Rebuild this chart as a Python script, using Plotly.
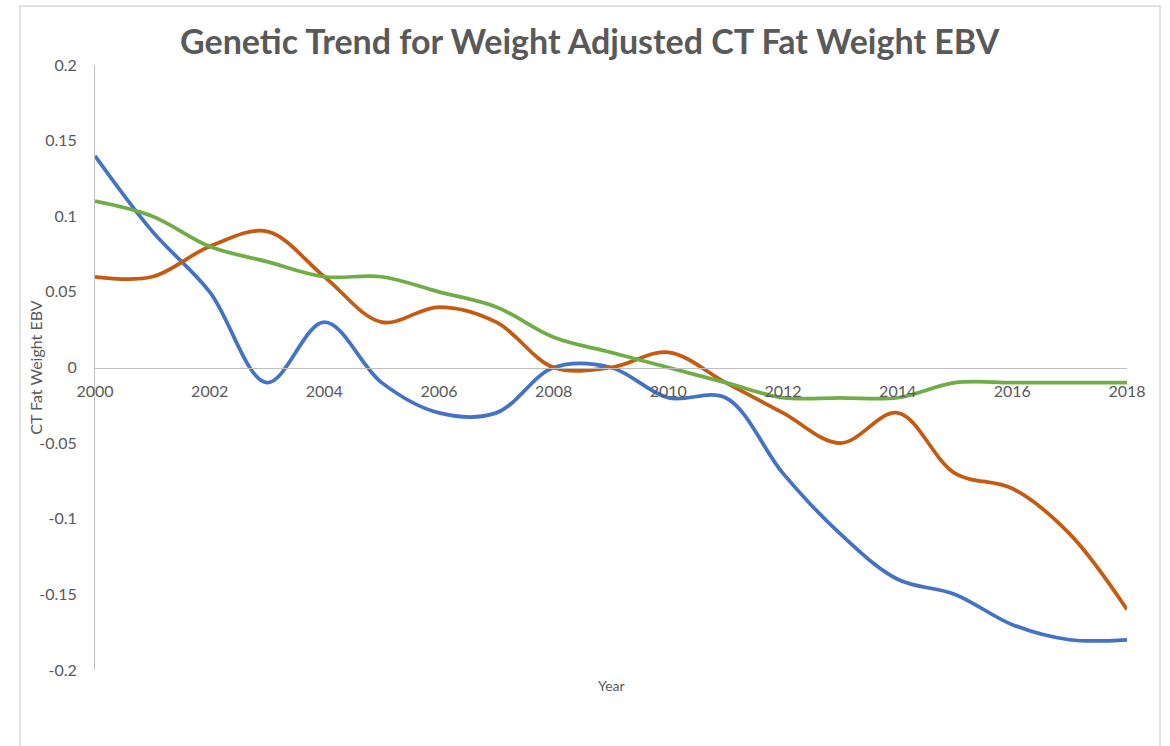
import plotly.graph_objects as go

years = list(range(2000, 2019))
blue_vals = [0.14, 0.09, 0.05, -0.01, 0.03, -0.01, -0.03, -0.03, 0.0, 0.0,
             -0.02, -0.02, -0.07, -0.11, -0.14, -0.15, -0.17, -0.18, -0.18]
orange_vals = [0.06, 0.06, 0.08, 0.09, 0.06, 0.03, 0.04, 0.03, 0.0, 0.0,
               0.01, -0.01, -0.03, -0.05, -0.03, -0.07, -0.08, -0.11, -0.16]
green_vals = [0.11, 0.10, 0.08, 0.07, 0.06, 0.06, 0.05, 0.04, 0.02, 0.01,
              0.0, -0.01, -0.02, -0.02, -0.02, -0.01, -0.01, -0.01, -0.01]

x_tickvals = [2000, 2002, 2004, 2006, 2008, 2010, 2012, 2014, 2016, 2018]
x_ticktext = ["2000", "2002", "2004", "2006", "2008", "2010", "2012", "2014", "2016", "2018"]
y_tickvals = [-0.2, -0.15, -0.1, -0.05, 0, 0.05, 0.1, 0.15, 0.2]
y_ticktext = ["-0.2", "-0.15", "-0.1", "-0.05", "0", "0.05", "0.1", "0.15", "0.2"]

title_text = "Genetic Trend for Weight Adjusted CT Fat Weight EBV"
y_title = "CT Fat Weight EBV"
x_title = "Year"

series = [
    ("Series1", blue_vals, "#4472C4"),
    ("Series2", orange_vals, "#C55A11"),
    ("Series3", green_vals, "#70AD47"),
]

fig = go.Figure()
for name, vals, color in series:
    fig.add_trace(go.Scatter(
        x=years, y=vals, mode="lines", name=name,
        line=dict(color=color, width=3.75, shape="spline", smoothing=1.0),
        hoverinfo="x+y",
    ))

FONT = "Lato, 'Open Sans', sans-serif"
GRAY = "#595959"

fig.update_layout(
    width=1170, height=746,
    paper_bgcolor="white", plot_bgcolor="white",
    margin=dict(l=95, r=43, t=65, b=76),
    showlegend=False,
    font=dict(family=FONT, color=GRAY),
    title=dict(text="<b>" + title_text + "</b>", x=0.504, xref="container",
               xanchor="center", y=0.944, yref="container", yanchor="middle",
               font=dict(family=FONT, size=34, color=GRAY)),
    xaxis=dict(
        range=[2000, 2018], tickvals=x_tickvals, ticktext=x_ticktext,
        showgrid=False, zeroline=False, showline=True, linecolor="#BFBFBF", linewidth=1,
        anchor="free", position=0.5,
        ticks="outside", ticklen=9, tickcolor="rgba(0,0,0,0)",
        tickfont=dict(family=FONT, size=16, color=GRAY),
    ),
    yaxis=dict(
        range=[-0.2, 0.2], tickvals=y_tickvals, ticktext=y_ticktext,
        showgrid=False, zeroline=False, showline=True, linecolor="#BFBFBF", linewidth=1,
        ticks="outside", ticklen=14, tickcolor="rgba(0,0,0,0)",
        tickfont=dict(family=FONT, size=16, color=GRAY),
    ),
    annotations=[
        dict(text=y_title, xref="paper", yref="paper", x=-0.058, y=0.5,
             xanchor="center", yanchor="middle", textangle=-90, showarrow=False,
             font=dict(family=FONT, size=16, color=GRAY)),
        dict(text=x_title, xref="paper", yref="paper", x=0.5, y=-0.0248,
             xanchor="center", yanchor="middle", showarrow=False,
             font=dict(family=FONT, size=14, color=GRAY)),
    ],
    shapes=[
        dict(type="rect", xref="paper", yref="paper", x0=-0.0727, x1=1.032,
             y0=-0.3, y1=1.0975, line=dict(color="#D9D9D9", width=1.5),
             fillcolor="rgba(0,0,0,0)", layer="below"),
    ],
)

fig.write_html("out.html", config={"displayModeBar": False},
               post_script="document.body.style.margin='0';")
